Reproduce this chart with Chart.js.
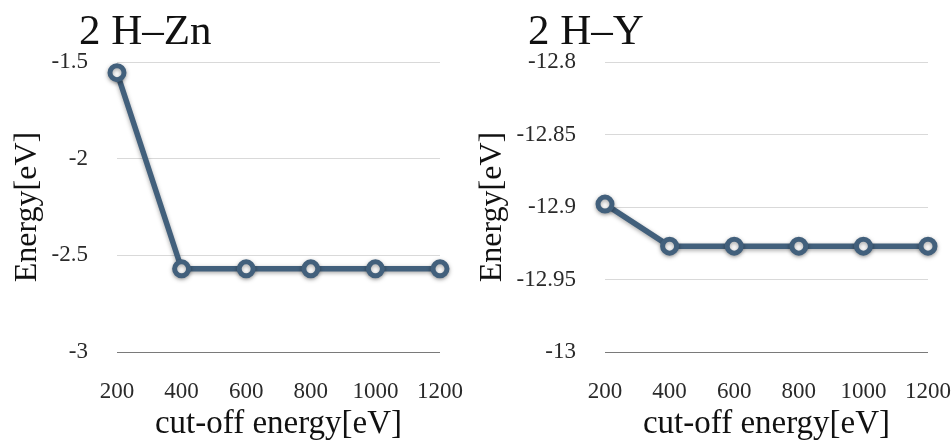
<!DOCTYPE html>
<html>
<head>
<meta charset="utf-8">
<script src="https://cdn.jsdelivr.net/npm/chart.js@4/dist/chart.umd.min.js"></script>
<style>
  body { margin: 0; background: #fff; }
  .painel { position: absolute; top: 0; width: 476px; height: 441px; }
</style>
</head>
<body>
<div class="painel" style="left:0"><canvas id="graficoZn"></canvas></div>
<div class="painel" style="left:476px"><canvas id="graficoY"></canvas></div>
<script>
const cutoffLabels = ['200', '400', '600', '800', '1000', '1200'];
const energiaZn = [-1.555, -2.57, -2.57, -2.57, -2.57, -2.57];
const energiaY = [-12.898, -12.927, -12.927, -12.927, -12.927, -12.927];
const titulos = ['2 H\u2013Zn', '2 H\u2013Y'];
const eixoX = 'cut-off energy[eV]';
const eixoY = 'Energy[eV]';

const corLinha = '#42607c';
const fonte = "'Liberation Serif', 'DejaVu Serif', serif";

// título no canto, desenhado fora da área do gráfico
const tituloCanto = {
  id: 'tituloCanto',
  afterDraw(chart, args, opts) {
    const ctx = chart.ctx;
    ctx.save();
    ctx.font = '43px ' + fonte;
    ctx.fillStyle = '#111';
    ctx.textBaseline = 'alphabetic';
    ctx.fillText(opts.text, opts.x, opts.y);
    ctx.restore();
  }
};

// sombra leve na linha e nos pontos
const sombra = {
  id: 'sombra',
  beforeDatasetsDraw(chart) {
    const ctx = chart.ctx;
    ctx.save();
    ctx.shadowColor = 'rgba(0,0,0,0.35)';
    ctx.shadowBlur = 4;
    ctx.shadowOffsetY = 1.5;
  },
  afterDatasetsDraw(chart) {
    chart.ctx.restore();
  }
};

function criarGrafico(id, dados, titulo, tituloX, min, max, passo, larguraY, margemDir, tituloPad) {
  new Chart(document.getElementById(id), {
    type: 'line',
    data: {
      labels: cutoffLabels,
      datasets: [{
        data: dados,
        borderColor: corLinha,
        borderWidth: 5.5,
        pointRadius: 7,
        pointBorderWidth: 5,
        pointBackgroundColor: '#fff',
        pointBorderColor: corLinha,
        tension: 0,
        clip: false
      }]
    },
    options: {
      responsive: true,
      maintainAspectRatio: false,
      animation: false,
      layout: { padding: { top: 62, right: margemDir, bottom: 0, left: 0 } },
      plugins: {
        legend: { display: false },
        tooltip: { enabled: false },
        tituloCanto: { text: titulo, x: tituloX, y: 44 }
      },
      scales: {
        x: {
          offset: false,
          afterFit: s => { s.height = 89; s.paddingLeft = 0; s.paddingRight = 0; },
          grid: { display: false, drawTicks: false },
          border: { display: false },
          ticks: { padding: 26, color: '#2a2a2a', font: { family: fonte, size: 23 }, maxRotation: 0 },
          title: { display: true, text: eixoX, color: '#111', padding: { top: 0, bottom: -3 }, font: { family: fonte, size: 33 } }
        },
        y: {
          min: min,
          max: max,
          afterFit: s => { s.width = larguraY; },
          grid: {
            drawTicks: false,
            color: c => c.index === 0 ? '#7a7a7a' : '#d9d9d9',
            lineWidth: 1
          },
          border: { display: false },
          ticks: {
            stepSize: passo,
            padding: 29,
            color: '#2a2a2a',
            font: { family: fonte, size: 23 },
            callback: v => String(parseFloat(v.toFixed(2)))
          },
          title: { display: true, text: eixoY, color: '#111', padding: { top: tituloPad, bottom: 0 }, font: { family: fonte, size: 32 } }
        }
      }
    },
    plugins: [tituloCanto, sombra]
  });
}

criarGrafico('graficoZn', energiaZn, titulos[0], 79, -3, -1.5, 0.5, 117, 36, 8);
criarGrafico('graficoY', energiaY, titulos[1], 52, -13, -12.8, 0.05, 129, 24, -3);
</script>
</body>
</html>
